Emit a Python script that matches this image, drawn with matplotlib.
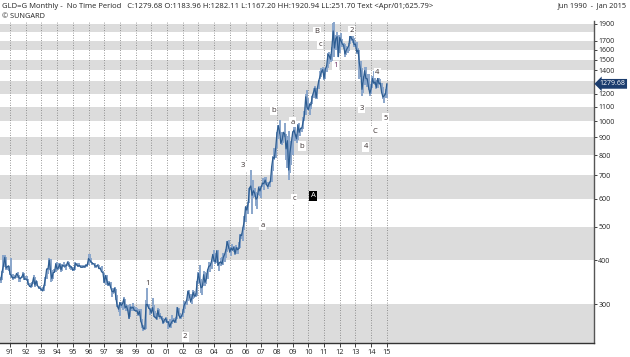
import numpy as np
import matplotlib
matplotlib.use('Agg')
import matplotlib.pyplot as plt
from matplotlib.ticker import FixedLocator, NullLocator

plt.rcParams['font.family'] = ['Open Sans', 'DejaVu Sans']

# monthly bars, Jun 1990 .. Jan 2015 (one row per year)
close = [
    352, 372, 387, 408, 380, 384, 386,
    366, 362, 356, 357, 358, 367, 362, 356, 355, 358, 366, 353,
    354, 353, 342, 337, 337, 343, 357, 340, 349, 339, 334, 333,
    330, 327, 338, 354, 378, 378, 401, 372, 355, 369, 370, 391,
    378, 381, 390, 376, 387, 386, 385, 386, 395, 389, 383, 383,
    375, 377, 392, 389, 385, 387, 383, 382, 384, 383, 387, 387,
    405, 400, 396, 392, 391, 385, 385, 387, 379, 379, 371, 369,
    346, 362, 351, 340, 345, 334, 326, 325, 333, 311, 296, 290,
    303, 297, 301, 310, 293, 296, 288, 273, 294, 292, 294, 288,
    287, 287, 280, 286, 268, 261, 255, 255, 299, 299, 292, 290,
    283, 293, 277, 275, 272, 288, 276, 277, 273, 265, 270, 273,
    266, 267, 258, 264, 268, 270, 266, 273, 293, 279, 274, 277,
    283, 297, 302, 308, 327, 318, 305, 312, 324, 316, 318, 347,
    367, 347, 334, 336, 364, 346, 354, 375, 385, 386, 398, 416,
    400, 396, 426, 387, 394, 396, 391, 408, 416, 428, 453, 438,
    423, 434, 428, 436, 418, 435, 429, 433, 473, 471, 495, 517,
    569, 557, 582, 644, 653, 614, 633, 623, 599, 604, 646, 632,
    650, 665, 663, 679, 659, 650, 665, 672, 743, 789, 783, 834,
    923, 972, 934, 865, 886, 930, 918, 834, 880, 725, 815, 870,
    928, 943, 917, 891, 976, 930, 955, 955, 995, 1040, 1175, 1096,
    1081, 1118, 1113, 1180, 1213, 1244, 1169, 1248, 1307, 1346, 1386, 1405,
    1327, 1411, 1439, 1556, 1536, 1505, 1628, 1813, 1620, 1722, 1746, 1531,
    1737, 1696, 1662, 1651, 1558, 1598, 1622, 1648, 1776, 1720, 1712, 1657,
    1663, 1578, 1598, 1467, 1393, 1234, 1314, 1395, 1326, 1323, 1253, 1202,
    1240, 1326, 1284, 1296, 1250, 1327, 1282, 1286, 1210, 1173, 1183, 1199,
    1279.68,
]
high = [
    358, 373, 414, 415, 408, 386, 386,
    384, 405, 366, 363, 361, 369, 371, 363, 358, 362, 370, 369,
    360, 360, 354, 344, 340, 346, 364, 358, 352, 349, 339, 337,
    334, 336, 340, 358, 378, 380, 407, 404, 366, 375, 378, 392,
    396, 392, 393, 391, 391, 397, 390, 387, 398, 397, 389, 386,
    382, 381, 396, 393, 393, 392, 389, 387, 387, 389, 390, 388,
    418, 416, 406, 396, 394, 392, 388, 390, 387, 384, 385, 373,
    368, 364, 364, 350, 350, 346, 333, 333, 336, 332, 318, 299,
    305, 305, 303, 315, 311, 300, 298, 289, 300, 297, 302, 297,
    294, 292, 291, 291, 290, 272, 262, 258, 309, 338, 300, 293,
    292, 313, 298, 286, 282, 293, 290, 282, 277, 274, 272, 276,
    272, 268, 271, 265, 280, 273, 272, 276, 294, 293, 282, 280,
    290, 306, 304, 309, 328, 330, 321, 315, 329, 327, 322, 349,
    370, 389, 353, 341, 374, 371, 368, 378, 395, 392, 399, 417,
    427, 419, 428, 428, 396, 406, 408, 419, 418, 430, 455, 456,
    427, 437, 447, 439, 437, 442, 437, 450, 475, 478, 497, 537,
    574, 573, 587, 644, 725, 640, 680, 644, 628, 622, 652, 645,
    655, 690, 672, 695, 691, 672, 670, 673, 744, 795, 841, 836,
    933, 975, 1011, 932, 927, 934, 987, 921, 909, 937, 826, 881,
    938, 1006, 961, 920, 981, 988, 959, 966, 1026, 1071, 1195, 1226,
    1162, 1129, 1133, 1181, 1249, 1265, 1214, 1246, 1313, 1389, 1424, 1431,
    1424, 1412, 1447, 1569, 1577, 1554, 1633, 1913, 1920.94, 1762, 1803, 1764,
    1764, 1791, 1720, 1676, 1666, 1640, 1627, 1675, 1790, 1796, 1755, 1726,
    1695, 1683, 1617, 1603, 1488, 1422, 1348, 1434, 1434, 1362, 1361, 1262,
    1280, 1345, 1392, 1331, 1315, 1333, 1346, 1323, 1290, 1255, 1205, 1238,
    1282.11,
]
low = [
    345, 352, 368, 384, 376, 376, 372,
    363, 355, 351, 354, 353, 356, 360, 348, 347, 355, 356, 351,
    351, 350, 341, 335, 333, 336, 343, 335, 339, 337, 331, 331,
    326, 326, 326, 337, 354, 365, 376, 347, 350, 354, 367, 370,
    375, 375, 377, 370, 373, 382, 380, 375, 385, 384, 379, 376,
    373, 372, 375, 385, 383, 383, 380, 380, 380, 381, 382, 384,
    387, 397, 394, 389, 390, 381, 381, 385, 379, 379, 370, 367,
    345, 341, 346, 338, 337, 334, 315, 320, 322, 308, 295, 284,
    278, 293, 289, 300, 291, 286, 287, 271, 275, 286, 290, 286,
    285, 285, 278, 278, 267, 256, 251.7, 253, 255, 295, 290, 280,
    281, 290, 276, 273, 270, 276, 276, 271, 270, 263, 264, 266,
    264, 255, 258, 256, 263, 267, 264, 265, 271, 277, 271, 272,
    276, 282, 290, 299, 306, 312, 302, 301, 311, 313, 315, 317,
    342, 345, 323, 319, 337, 339, 343, 353, 370, 370, 378, 396,
    399, 390, 393, 385, 373, 385, 388, 388, 396, 407, 424, 430,
    419, 411, 425, 422, 414, 416, 418, 431, 433, 461, 455, 489,
    514, 542, 542, 583, 636, 543, 602, 609, 573, 560, 614, 611,
    603, 647, 636, 665, 656, 642, 649, 648, 671, 721, 776, 785,
    840, 887, 919, 863, 853, 868, 902, 775, 737, 681, 713, 749,
    801, 893, 880, 866, 884, 910, 908, 934, 951, 1002, 1043, 1075,
    1074, 1045, 1087, 1123, 1165, 1199, 1157, 1157, 1239, 1318, 1337, 1377,
    1309, 1323, 1381, 1419, 1462, 1478, 1478, 1600, 1532, 1604, 1667, 1523,
    1563, 1688, 1627, 1613, 1527, 1547, 1564, 1593, 1661, 1697, 1673, 1636,
    1626, 1554, 1563, 1321, 1339, 1180, 1208, 1270, 1292, 1251, 1228, 1182,
    1200, 1242, 1283, 1268, 1240, 1241, 1281, 1273, 1205, 1161, 1131, 1167,
    1167.20,
]
start_year = 1990 + 5 / 12.0  # Jun 1990

years = list(range(1991, 2016))
year_labels = ['%02d' % (y % 100) for y in years]
price_ticks = [300, 400, 500, 600, 700, 800, 900, 1000, 1100, 1200,
               1400, 1500, 1600, 1700, 1900]
bands = [(200, 300), (400, 500), (600, 700), (800, 900), (1000, 1100),
         (1200, 1300), (1400, 1500), (1600, 1700), (1800, 1900)]

# elliott wave labels: text, date, price
wave_text = ['1', '2', '3', 'a', 'b', 'a', 'b', 'c', 'A', 'B', 'c', '1',
             '2', '3', '4', '5', 'C', '4']
wave_date = [1999.73, 2002.15, 2005.84, 2007.1, 2007.8, 2009.0, 2009.6,
             2009.1, 2010.3, 2010.55, 2010.75, 2011.75, 2012.75, 2013.4,
             2014.4, 2014.9, 2014.25, 2013.65]
wave_price = [344, 242, 745, 503, 1075, 993, 849, 600, 612, 1803, 1658,
              1442, 1813, 1089, 1377, 1021, 935, 845]

last_close = 1279.68

dates = start_year + np.arange(len(close)) / 12.0

fig = plt.figure(figsize=(6.3, 3.57), dpi=100)
ax = fig.add_axes([0.0, 0.039, 0.943, 0.902])
ax.set_yscale('log')
ax.set_xlim(1990.363, 2028.2)
ax.set_ylim(232, 1935)

for lo, hi in bands:
    ax.axhspan(lo, hi, color='#dcdcdc', lw=0, zorder=0)
for y in years:
    ax.axvline(y, color='#777777', lw=0.6, ls=(0, (1, 2)), zorder=1)

ax.vlines(dates, low, high, color='#8aa6cb', lw=1.4, zorder=2)
ax.plot(dates, close, color='#2d5d92', lw=0.9, zorder=3)

for t, d, p in zip(wave_text, wave_date, wave_price):
    if t == 'A':
        ax.text(d, p, t, fontsize=5.5, color='white', ha='center', va='center', zorder=5,
                bbox=dict(facecolor='black', edgecolor='none', pad=1.2))
    else:
        col = '#6b2a5e' if (t == '1' and p > 1000) else '#3a3030'
        ax.text(d, p, t, fontsize=5.5, color=col, ha='center', va='center', zorder=5,
                bbox=dict(facecolor='white', edgecolor='none', pad=1.0))

for s in ['left', 'top']:
    ax.spines[s].set_visible(False)
ax.spines['right'].set_color('#555555')
ax.spines['bottom'].set_color('#333333')
ax.spines['right'].set_linewidth(1.0)
ax.spines['bottom'].set_linewidth(1.0)

ax.yaxis.tick_right()
ax.yaxis.set_major_locator(FixedLocator(price_ticks))
ax.yaxis.set_minor_locator(NullLocator())
ax.set_yticklabels([str(p) for p in price_ticks])
ax.tick_params(axis='y', which='major', length=2, width=0.6, pad=1, labelsize=5, colors='#222222')

ax.set_xticks(years)
ax.set_xticklabels(year_labels)
ax.tick_params(axis='x', length=3, width=0.6, pad=1.5, labelsize=5.3, colors='#222222')

ax.annotate('%.2f' % last_close, xy=(1.0, last_close), xycoords=('axes fraction', 'data'),
            xytext=(4, 0), textcoords='offset points', fontsize=5, color='white',
            va='center', ha='left', zorder=6,
            bbox=dict(boxstyle='larrow,pad=0.2', facecolor='#1c3d6e', edgecolor='none'))

fig.text(0.003, 0.983,
         'GLD=G Monthly -  No Time Period   C:1279.68 O:1183.96 H:1282.11 L:1167.20 '
         'HH:1920.94 LL:251.70 Text <Apr/01;625.79>',
         fontsize=5.5, va='center', ha='left', color='#222222')
fig.text(0.003, 0.955, '\u00a9 SUNGARD', fontsize=5.3, va='center', ha='left', color='#222222')
fig.text(0.995, 0.983, 'Jun 1990  -  Jan 2015', fontsize=5.3, va='center', ha='right',
         color='#222222')

fig.savefig('out.png', dpi=100)
